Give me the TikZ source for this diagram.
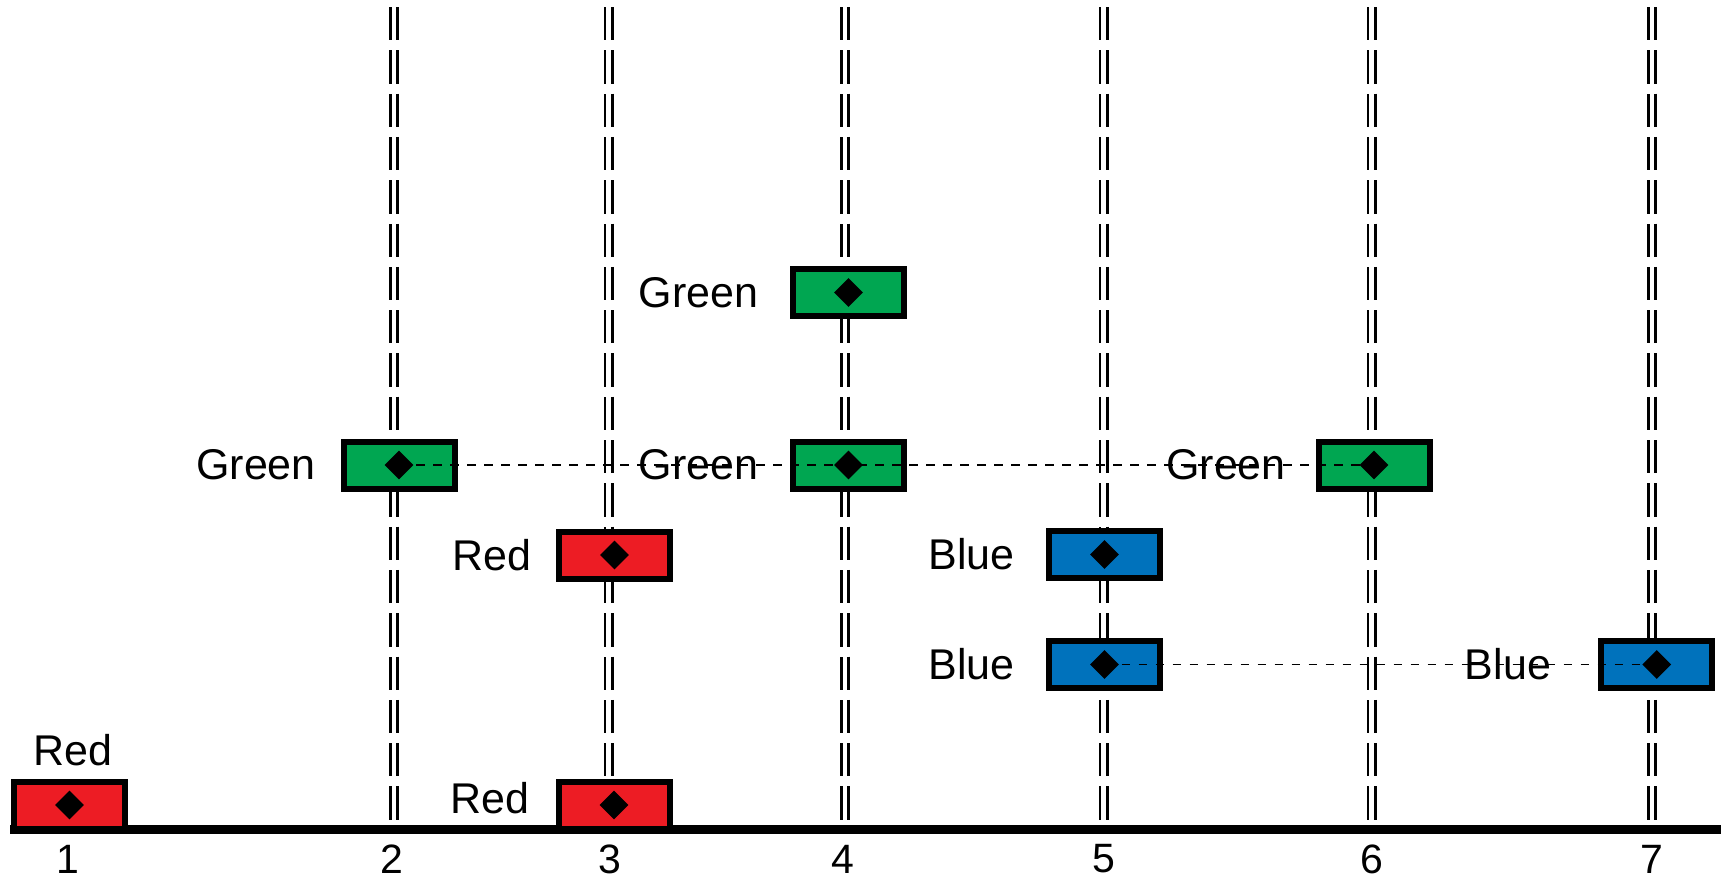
\documentclass[tikz,border=0pt]{standalone}
\usepackage{fontspec}
\setmainfont{Liberation Sans}
\usetikzlibrary{shapes.geometric}
\definecolor{boxred}{RGB}{237,28,36}
\definecolor{boxgreen}{RGB}{0,166,81}
\definecolor{boxblue}{RGB}{0,114,188}

\begin{document}
\begin{tikzpicture}[
		x=0.5bp, y=-0.5bp,
		every node/.style={font=\fontsize{21.5bp}{26bp}\selectfont},
		track/.style={double, line width=1.4bp, double distance=2.2bp, dash pattern=on 16.65bp off 5bp},
		slot/.style={draw, line width=3bp, minimum width=55.5bp, minimum height=23.5bp, inner sep=0pt},
		gem/.style={diamond, fill=black, minimum size=14.5bp, inner sep=0pt},
		link/.style={line width=0.65bp, dash pattern=on 4.25bp off 4.25bp},
	]
		\useasboundingbox (0,0) rectangle (1721,882);
	
		\foreach \x in {394,608.5,845,1103.5,1371.5,1652}
			\draw[track] (\x,7) -- (\x,820);
		\draw[line width=4.5bp] (10,829.5) -- (1721,829.5);
		
		\foreach \n/\x in {1/68,2/392,3/610,4/843,5/1104,6/1372,7/1652}
			\node[inner sep=0pt, font=\fontsize{20.5bp}{24bp}\selectfont] (n\n) at (\x,859) {\n};
		
		\node[slot, fill=boxred] (r1) at (69.5,805) {};
		\node[slot, fill=boxred] (r3a) at (614,805) {};
		\node[slot, fill=boxred] (r3b) at (614.5,555) {};
		\node[slot, fill=boxgreen] (g4a) at (848.5,292.5) {};
		\node[slot, fill=boxgreen] (g2) at (399,465) {};
		\node[slot, fill=boxgreen] (g4b) at (848.5,465) {};
		\node[slot, fill=boxgreen] (g6) at (1374,465) {};
		\node[slot, fill=boxblue] (b5a) at (1104.5,554.5) {};
		\node[slot, fill=boxblue] (b5b) at (1104.5,664.5) {};
		\node[slot, fill=boxblue] (b7) at (1656.7,664.5) {};
		
		\draw[link] (g2.center) -- (g6.center);
		\draw[link] (b5b.center) -- (b7.center);
		
		\foreach \b in {r1,r3a,r3b,g4a,g2,g4b,g6,b5a,b5b,b7}
			\node[gem] (\b-gem) at (\b) {};
		
		\node (lr1) at (72.5,750.5) {Red};
		\node (lr3a) at (490,798) {Red};
		\node (lr3b) at (492,555) {Red};
		\node (lg4a) at (698.5,293) {Green};
		\node (lg2) at (256,465) {Green};
		\node (lg4b) at (698.5,465) {Green};
		\node (lg6) at (1226,465) {Green};
		\node (lb5a) at (971.7,554.5) {Blue};
		\node (lb5b) at (971.7,664) {Blue};
		\node (lb7) at (1508,664) {Blue};
	\end{tikzpicture}
\end{document}
